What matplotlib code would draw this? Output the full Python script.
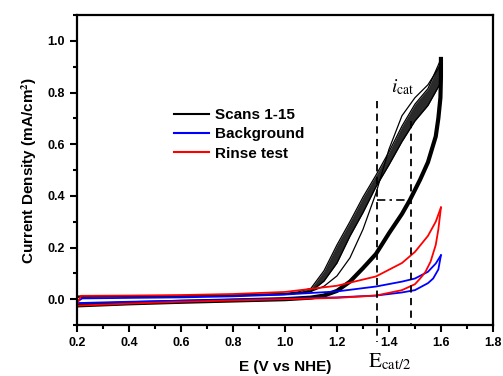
import matplotlib
matplotlib.use("Agg")
import matplotlib.pyplot as plt
from matplotlib.ticker import MultipleLocator

plt.rcParams['font.family'] = ['Liberation Sans', 'DejaVu Sans']
plt.rcParams['mathtext.fontset'] = 'stix'

# ---- data ----
# Forward sweep potential grid for the catalyst scans
E_fwd = [0.20, 0.40, 0.60, 0.80, 1.00, 1.05, 1.10, 1.15, 1.20, 1.25, 1.30, 1.35, 1.40, 1.45, 1.50, 1.55, 1.60]
# upper / lower envelopes of the bundle of forward sweeps (scans 2-15)
scans_fwd_upper = [0.012, 0.013, 0.014, 0.016, 0.022, 0.028, 0.042, 0.11, 0.21, 0.30, 0.395, 0.48, 0.57, 0.67, 0.755, 0.815, 0.93]
scans_fwd_lower = [0.008, 0.010, 0.011, 0.013, 0.018, 0.023, 0.030, 0.07, 0.14, 0.244, 0.335, 0.435, 0.52, 0.61, 0.69, 0.75, 0.84]
# first scan (thin outlier)
scan1_fwd = [0.010, 0.012, 0.013, 0.015, 0.020, 0.024, 0.030, 0.05, 0.09, 0.16, 0.27, 0.41, 0.58, 0.71, 0.78, 0.83, 0.91]

# reverse sweep (all scans overlap)
E_rev = [1.60, 1.60, 1.598, 1.59, 1.58, 1.55, 1.52, 1.48, 1.45, 1.40, 1.35, 1.30, 1.25, 1.20, 1.15, 1.10, 1.00, 0.80, 0.60, 0.40, 0.20]
scans_rev = [0.93, 0.86, 0.78, 0.70, 0.63, 0.53, 0.463, 0.383, 0.33, 0.255, 0.175, 0.12, 0.068, 0.032, 0.014, 0.006, 0.0, -0.005, -0.01, -0.016, -0.024]

# Background (blue)
E_bg_fwd = [0.20, 0.22, 0.40, 0.60, 0.80, 1.00, 1.20, 1.35, 1.45, 1.50, 1.55, 1.58, 1.60]
bg_fwd = [-0.010, 0.003, 0.005, 0.007, 0.011, 0.018, 0.030, 0.049, 0.068, 0.080, 0.106, 0.138, 0.170]
E_bg_rev = [1.60, 1.59, 1.57, 1.55, 1.50, 1.45, 1.35, 1.20, 1.00, 0.80, 0.60, 0.40, 0.20]
bg_rev = [0.170, 0.115, 0.080, 0.062, 0.035, 0.026, 0.014, 0.007, 0.002, -0.002, -0.006, -0.010, -0.015]

# Rinse test (red)
E_rt_fwd = [0.20, 0.215, 0.40, 0.60, 0.80, 1.00, 1.20, 1.35, 1.45, 1.50, 1.55, 1.58, 1.60]
rt_fwd = [-0.020, 0.013, 0.014, 0.016, 0.020, 0.028, 0.052, 0.088, 0.140, 0.183, 0.245, 0.300, 0.355]
E_rt_rev = [1.60, 1.59, 1.58, 1.56, 1.54, 1.52, 1.50, 1.45, 1.35, 1.20, 1.00, 0.80, 0.60, 0.40, 0.20]
rt_rev = [0.355, 0.270, 0.210, 0.145, 0.105, 0.080, 0.058, 0.035, 0.014, 0.005, 0.0, -0.005, -0.010, -0.017, -0.025]

# annotation values
E_half = 1.355
E_icat = 1.486
j_half = 0.383
j_top_left = 0.766
j_top_right = 0.69

legend_labels = ["Scans 1-15", "Background", "Rinse test"]

# ---- figure ----
fig = plt.figure(figsize=(5.03, 3.76), dpi=100)
ax = fig.add_axes([0.153, 0.1356, 0.827, 0.8244])

ax.fill_between(E_fwd, scans_fwd_lower, scans_fwd_upper, color='#2a2a2a', lw=0)
ax.plot(E_fwd, scans_fwd_upper, color='black', lw=0.9)
ax.plot(E_fwd, scans_fwd_lower, color='black', lw=0.9)
ax.plot(E_fwd, scan1_fwd, color='black', lw=0.9)
ax.plot(E_rev, scans_rev, color='black', lw=3.0, solid_joinstyle='round')

ax.plot(E_bg_fwd, bg_fwd, color='#0000ff', lw=1.3)
ax.plot(E_bg_rev, bg_rev, color='#0000ff', lw=1.3)
ax.plot(E_rt_fwd, rt_fwd, color='#ff0000', lw=1.3)
ax.plot(E_rt_rev, rt_rev, color='#ff0000', lw=1.3)

# legend proxies
h1, = ax.plot([], [], color='black', lw=1.5)
h2, = ax.plot([], [], color='#0000ff', lw=1.5)
h3, = ax.plot([], [], color='#ff0000', lw=1.5)
leg = ax.legend([h1, h2, h3], legend_labels, loc='upper left',
                bbox_to_anchor=(0.215, 0.725), frameon=False,
                handlelength=2.3, handletextpad=0.4, labelspacing=0.35,
                borderpad=0, prop={'weight': 'bold', 'size': 11})

# dashed guides
ax.plot([E_half, E_half], [j_top_left, -0.165], color='black', lw=1.3,
        ls=(0, (4, 3)), clip_on=False)
ax.plot([E_icat, E_icat], [j_top_right, -0.1], color='black', lw=1.3,
        ls=(0, (4, 3)), clip_on=False)
ax.plot([E_half, E_icat], [j_half, j_half], color='black', lw=1.2,
        ls=(0, (5, 2.5, 1.5, 2.5)))

ax.text(1.408, 0.80, r'$i_{\mathrm{cat}}$', fontsize=14, ha='left', va='baseline')
ax.text(1.318, -0.262, r'$\mathrm{E}_{\mathrm{cat/2}}$', fontsize=15,
        ha='left', va='baseline', clip_on=False)

ax.set_xlim(0.2, 1.8)
ax.set_ylim(-0.1, 1.1)
ax.xaxis.set_major_locator(MultipleLocator(0.2))
ax.xaxis.set_minor_locator(MultipleLocator(0.1))
ax.yaxis.set_major_locator(MultipleLocator(0.2))
ax.yaxis.set_minor_locator(MultipleLocator(0.1))
ax.set_yticks([0.0, 0.2, 0.4, 0.6, 0.8, 1.0])
ax.tick_params(which='major', direction='out', length=5, width=1.5, labelsize=9)
ax.tick_params(which='minor', direction='out', length=3, width=1.5)
for lab in ax.get_xticklabels() + ax.get_yticklabels():
    lab.set_fontweight('bold')
for sp in ax.spines.values():
    sp.set_linewidth(1.6)

ax.set_xlabel('E (V vs NHE)', fontsize=11, fontweight='bold', labelpad=8)
ax.set_ylabel('Current Density (mA/cm$^\\mathbf{2}$)', fontsize=11, fontweight='bold', labelpad=6)

fig.savefig('out.png', dpi=100)
